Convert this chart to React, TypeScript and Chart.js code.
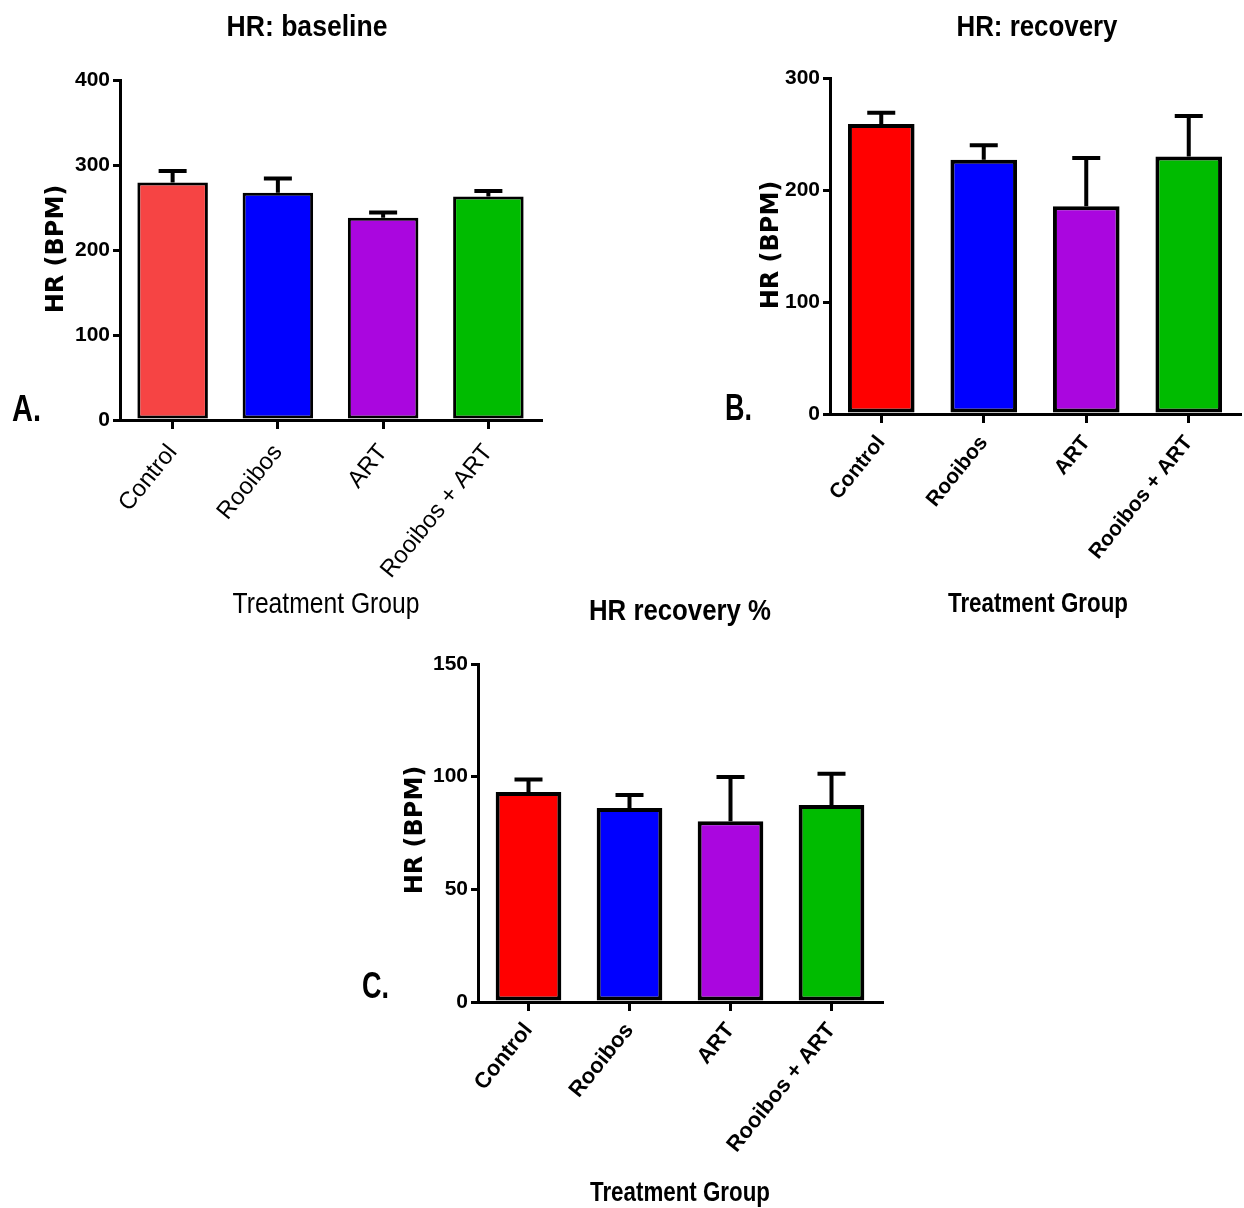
import React, { useEffect, useRef } from "react";
import { Chart, registerables } from "chart.js";
Chart.register(...registerables);

const categories = ["Control", "Rooibos", "ART", "Rooibos + ART"];

const baselineMean = [279.5, 267.5, 238, 263];
const baselineSem = [13.5, 16.5, 6, 6.5];

const recoveryMean = [259, 227, 185.5, 230];
const recoverySem = [10, 13, 43, 36];

const recoveryPctMean = [93.2, 86.1, 80.2, 87.4];
const recoveryPctSem = [5.5, 5.8, 19.6, 13.9];

const colorsA = ["#F64444", "#0000FF", "#AA06DF", "#00BB00"];
const colorsBC = ["#FF0000", "#0000FF", "#AA06DF", "#00BB00"];

const ARIAL = "'Liberation Sans', Arial, sans-serif";
const DEJAVU = "'DejaVu Sans', 'Liberation Sans', sans-serif";

type TextItem = {
  text: string;
  x: number;
  y: number;
  font: string;
  align?: CanvasTextAlign;
  rotate?: number;
  maxWidth?: number;
};

function makeErrorPlugin(errors: number[], cap: number, lw: number) {
  return {
    id: "errorBars",
    afterDatasetsDraw(chart: any) {
      const { ctx } = chart;
      const meta = chart.getDatasetMeta(0);
      const ys = chart.scales.y;
      const vals = chart.data.datasets[0].data as number[];
      ctx.save();
      ctx.strokeStyle = "#000";
      ctx.lineWidth = lw;
      ctx.lineCap = "butt";
      meta.data.forEach((bar: any, i: number) => {
        const yBase = ys.getPixelForValue(vals[i]);
        const yTop = ys.getPixelForValue(vals[i] + errors[i]);
        ctx.beginPath();
        ctx.moveTo(bar.x, yBase);
        ctx.lineTo(bar.x, yTop);
        ctx.moveTo(bar.x - cap / 2, yTop);
        ctx.lineTo(bar.x + cap / 2, yTop);
        ctx.stroke();
      });
      ctx.restore();
    },
  };
}

function makeTextPlugin(items: TextItem[]) {
  return {
    id: "texts",
    afterDraw(chart: any) {
      const { ctx } = chart;
      items.forEach((t) => {
        ctx.save();
        ctx.fillStyle = "#000";
        ctx.font = t.font;
        ctx.textAlign = t.align || "center";
        ctx.textBaseline = "middle";
        ctx.translate(t.x, t.y);
        if (t.rotate) ctx.rotate(t.rotate);
        if (t.maxWidth) ctx.fillText(t.text, 0, 0, t.maxWidth);
        else ctx.fillText(t.text, 0, 0);
        ctx.restore();
      });
    },
  };
}

type PanelProps = {
  left: number;
  top: number;
  width: number;
  height: number;
  area: { left: number; right: number; top: number; bottom: number };
  values: number[];
  errors: number[];
  colors: string[];
  yMax: number;
  yStep: number;
  borderWidth: number;
  barPct: number;
  tickFont: { family: string; size: number; weight: string };
  tickPad: number;
  texts: TextItem[];
};

function Panel(p: PanelProps) {
  const ref = useRef<HTMLCanvasElement | null>(null);
  useEffect(() => {
    if (!ref.current) return;
    const yW = p.area.left;
    const xH = p.height - p.area.bottom;
    const chart = new Chart(ref.current, {
      type: "bar",
      data: {
        labels: categories,
        datasets: [
          {
            data: p.values,
            backgroundColor: p.colors,
            borderColor: "#000",
            borderWidth: p.borderWidth,
            borderSkipped: false,
            barPercentage: p.barPct,
            categoryPercentage: 1,
          },
        ],
      },
      options: {
        responsive: false,
        animation: false,
        devicePixelRatio: 1,
        layout: {
          padding: { left: 0, top: p.area.top, right: p.width - p.area.right, bottom: 0 },
        },
        plugins: {
          legend: { display: false },
          title: { display: false },
          tooltip: { enabled: false },
        },
        scales: {
          x: {
            type: "category",
            offset: true,
            grid: {
              offset: false,
              drawOnChartArea: false,
              drawTicks: true,
              tickLength: 9,
              color: "#000",
              lineWidth: 3,
            },
            border: { display: true, color: "#000", width: 3 },
            ticks: {
              color: "#000",
              font: p.tickFont as any,
              minRotation: 51,
              maxRotation: 51,
              autoSkip: false,
              padding: p.tickPad,
            },
            afterFit: (s: any) => {
              s.height = xH;
            },
          },
          y: {
            min: 0,
            max: p.yMax,
            ticks: {
              stepSize: p.yStep,
              color: "#000",
              font: { family: ARIAL, size: 21, weight: "bold" } as any,
              padding: 3,
            },
            grid: {
              drawOnChartArea: false,
              drawTicks: true,
              tickLength: 7,
              color: "#000",
              lineWidth: 3,
            },
            border: { display: true, color: "#000", width: 3 },
            afterFit: (s: any) => {
              s.width = yW;
            },
          },
        },
      },
      plugins: [makeErrorPlugin(p.errors, 28, 4), makeTextPlugin(p.texts)],
    });
    return () => chart.destroy();
  }, []);
  return (
    <canvas
      ref={ref}
      width={p.width}
      height={p.height}
      style={{ position: "absolute", left: p.left, top: p.top, width: p.width, height: p.height }}
    />
  );
}

const R90 = -Math.PI / 2;

export default function App() {
  return (
    <div
      style={{
        position: "absolute",
        left: 0,
        top: 0,
        width: 1244,
        height: 1208,
        background: "#fff",
        overflow: "hidden",
      }}
    >
      <Panel
        left={0}
        top={0}
        width={600}
        height={640}
        area={{ left: 120, right: 541, top: 80, bottom: 420 }}
        values={baselineMean}
        errors={baselineSem}
        colors={colorsA}
        yMax={400}
        yStep={100}
        borderWidth={3}
        barPct={0.67}
        tickFont={{ family: ARIAL, size: 24, weight: "normal" }}
        tickPad={10}
        texts={[
          { text: "HR: baseline", x: 307, y: 28, font: `bold 30px ${ARIAL}`, maxWidth: 161 },
          { text: "HR (BPM)", x: 57, y: 249, font: `bold 24px ${DEJAVU}`, rotate: R90 },
          { text: "Treatment Group", x: 326, y: 605, font: `normal 29px ${ARIAL}`, maxWidth: 187 },
          { text: "A.", x: 12, y: 411, font: `bold 36px ${ARIAL}`, align: "left", maxWidth: 29 },
        ]}
      />
      <Panel
        left={640}
        top={0}
        width={604}
        height={640}
        area={{ left: 190, right: 600, top: 78, bottom: 414 }}
        values={recoveryMean}
        errors={recoverySem}
        colors={colorsBC}
        yMax={300}
        yStep={100}
        borderWidth={4}
        barPct={0.65}
        tickFont={{ family: ARIAL, size: 21, weight: "bold" }}
        tickPad={8}
        texts={[
          { text: "HR: recovery", x: 397, y: 28, font: `bold 30px ${ARIAL}`, maxWidth: 161 },
          { text: "HR (BPM)", x: 132, y: 245, font: `bold 24px ${DEJAVU}`, rotate: R90 },
          { text: "Treatment Group", x: 398, y: 604, font: `bold 28px ${ARIAL}`, maxWidth: 180 },
          { text: "B.", x: 85, y: 410, font: `bold 36px ${ARIAL}`, align: "left", maxWidth: 27 },
        ]}
      />
      <Panel
        left={300}
        top={580}
        width={620}
        height={628}
        area={{ left: 178, right: 582, top: 84, bottom: 422 }}
        values={recoveryPctMean}
        errors={recoveryPctSem}
        colors={colorsBC}
        yMax={150}
        yStep={50}
        borderWidth={4}
        barPct={0.65}
        tickFont={{ family: ARIAL, size: 22, weight: "bold" }}
        tickPad={7}
        texts={[
          { text: "HR recovery %", x: 380, y: 32, font: `bold 30px ${ARIAL}`, maxWidth: 182 },
          { text: "HR (BPM)", x: 116, y: 250, font: `bold 24px ${DEJAVU}`, rotate: R90 },
          { text: "Treatment Group", x: 380, y: 613, font: `bold 28px ${ARIAL}`, maxWidth: 180 },
          { text: "C.", x: 62, y: 408, font: `bold 36px ${ARIAL}`, align: "left", maxWidth: 27 },
        ]}
      />
    </div>
  );
}
